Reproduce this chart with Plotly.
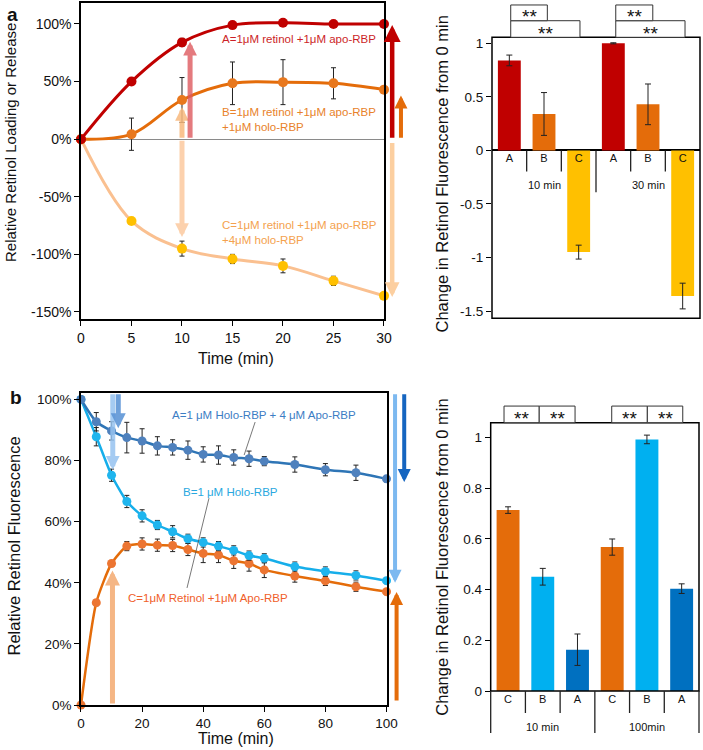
import plotly.graph_objects as go

FONT = "Liberation Sans, Arial, sans-serif"

# ---------------- data ----------------
# Panel a (line): time course, relative retinol loading/release (%)
a_time = [0, 5, 10, 15, 20, 25, 30]
a_A = [0, 50, 84, 99, 101, 100, 100]
a_A_err = [0, 2.5, 3.5, 1, 1, 1, 1]
a_B = [0, 4.3, 34, 48.5, 49.5, 48.5, 43]
a_B_err = [0, 14, 19.5, 18.5, 19.5, 13.5, 0]
a_C = [0, -71, -95, -104, -110, -123, -136]
a_C_err = [0, 3, 6.5, 4, 6, 4, 0]
a_yticks = [-150, -100, -50, 0, 50, 100]
a_yticktext = ["-150%", "-100%", "-50%", "0%", "50%", "100%"]
a_xticks = [0, 5, 10, 15, 20, 25, 30]

# Panel a (bars): change in retinol fluorescence from 0 min
a_bar_letters = ["A", "B", "C", "A", "B", "C"]
a_bar_groups = ["10 min", "30 min"]
a_bar_vals = [0.84, 0.34, -0.95, 1.0, 0.43, -1.36]
a_bar_err = [0.05, 0.2, 0.065, 0.005, 0.19, 0.12]
a_bar_yticks = [-1.5, -1, -0.5, 0, 0.5, 1]
a_bar_yticktext = ["-1.5", "-1", "-0.5", "0", "0.5", "1"]

# Panel b (line): relative retinol fluorescence (%)
b_time = [0, 5, 10, 15, 20, 25, 30, 35, 40, 45, 50, 55, 60, 70, 80, 90, 100]
b_A = [100, 92.7, 89.7, 87.5, 86.4, 84.8, 84.3, 83.4, 82.0, 81.8, 81.0, 80.6, 79.8, 78.7, 77.0, 76.0, 74.0]
b_A_err = [1, 3, 3, 5, 4, 3, 2.5, 3, 2.5, 3, 2.5, 2.5, 1.5, 2.5, 2, 2.5, 1]
b_B = [100, 87.8, 75.2, 66.6, 61.9, 58.9, 56.7, 54.4, 53.2, 52.0, 50.6, 48.9, 48.0, 45.3, 43.7, 42.4, 40.7]
b_B_err = [1, 3, 2, 2, 2, 1.5, 2, 1.5, 1.5, 1.5, 1.5, 1.5, 1.5, 1.5, 1.5, 1.5, 1]
b_C = [0, 33.5, 46.3, 52.0, 52.7, 52.3, 52.2, 50.9, 49.6, 49.1, 47.2, 46.3, 44.2, 42.2, 40.6, 38.7, 37.1]
b_C_err = [0, 1, 1, 1.5, 2, 2, 2, 2, 3, 2.5, 2.5, 2.5, 2.5, 2, 1.5, 1.5, 1]
b_yticks = [0, 20, 40, 60, 80, 100]
b_yticktext = ["0%", "20%", "40%", "60%", "80%", "100%"]
b_xticks = [0, 20, 40, 60, 80, 100]

# Panel b (bars)
b_bar_letters = ["C", "B", "A", "C", "B", "A"]
b_bar_groups = ["10 min", "100min"]
b_bar_vals = [0.714, 0.451, 0.163, 0.568, 0.993, 0.404]
b_bar_err = [0.013, 0.033, 0.062, 0.032, 0.017, 0.019]
b_bar_yticks = [0, 0.2, 0.4, 0.6, 0.8, 1]
b_bar_yticktext = ["0", "0.2", "0.4", "0.6", "0.8", "1"]

# ---------------- styles ----------------
RED, ORANGE, YELLOW, PEACH = "#C00000", "#E46C0A", "#FFC000", "#FAC090"
DBLUE, LBLUE = "#0070C0", "#00B0F0"
a_bar_colors = {"A": RED, "B": ORANGE, "C": YELLOW}
b_bar_colors = {"A": DBLUE, "B": LBLUE, "C": ORANGE}
ERR = dict(type="data", color="#222", thickness=1, width=2.5)

fig = go.Figure()


def add_line(x, y, err, lc, mc, xa, ya, smoothing, lw, ms):
    fig.add_trace(go.Scatter(
        x=x, y=y, mode="lines+markers",
        line=dict(color=lc, width=lw, shape="spline", smoothing=smoothing),
        marker=dict(color=mc, size=ms),
        error_y=dict(ERR, array=err),
        xaxis=xa, yaxis=ya, cliponaxis=False, showlegend=False))


# panel a lines
add_line(a_time, a_C, a_C_err, PEACH, YELLOW, "x", "y", 1.0, 3, 10)
add_line(a_time, a_B, a_B_err, ORANGE, "#E8781E", "x", "y", 1.0, 3, 10)
add_line(a_time, a_A, a_A_err, RED, RED, "x", "y", 1.0, 3, 10)

# panel b lines
add_line(b_time, b_C, b_C_err, ORANGE, "#EC7532", "x2", "y2", 0.6, 2.5, 9)
add_line(b_time, b_B, b_B_err, "#16AEEA", "#1FB5EE", "x2", "y2", 0.6, 2.5, 9)
add_line(b_time, b_A, b_A_err, "#2E75B6", "#4F81BD", "x2", "y2", 0.6, 2.5, 9)

# bars
fig.add_trace(go.Bar(
    x=list(range(len(a_bar_vals))), y=a_bar_vals, width=0.66,
    marker=dict(color=[a_bar_colors[c] for c in a_bar_letters], line=dict(width=0)),
    error_y=dict(ERR, array=a_bar_err, width=3),
    xaxis="x3", yaxis="y3", showlegend=False))
fig.add_trace(go.Bar(
    x=list(range(len(b_bar_vals))), y=b_bar_vals, width=0.66,
    marker=dict(color=[b_bar_colors[c] for c in b_bar_letters], line=dict(width=0)),
    error_y=dict(ERR, array=b_bar_err, width=3),
    xaxis="x4", yaxis="y4", showlegend=False))

axis_common = dict(showgrid=False, ticks="outside", ticklen=5, tickwidth=1.2, automargin=False,
                   tickcolor="black", tickfont=dict(family=FONT, size=14, color="#111"))
line_frame = dict(showline=True, mirror=True, linecolor="black", linewidth=1.5)
small_tick = dict(family=FONT, size=13.5, color="#111")

fig.update_layout(
    width=703, height=750, margin=dict(l=0, r=0, t=0, b=0, pad=0, autoexpand=False),
    paper_bgcolor="white", plot_bgcolor="white",
    font=dict(family=FONT, color="#111"),
    xaxis=dict(axis_common, **line_frame, domain=[0.11522, 0.54623], range=[0, 30], anchor="y",
               tickvals=a_xticks, zeroline=False),
    yaxis=dict(axis_common, **line_frame, domain=[0.57467, 0.996], range=[-156.1, 118.2], anchor="x",
               tickvals=a_yticks, ticktext=a_yticktext, zeroline=True,
               zerolinecolor="#8a8a8a", zerolinewidth=1),
    xaxis2=dict(axis_common, **line_frame, domain=[0.11522, 0.54979], range=[0, 100], anchor="y2",
                tickvals=b_xticks, zeroline=False, tickfont=small_tick),
    yaxis2=dict(axis_common, **line_frame, domain=[0.06, 0.4764], range=[0, 102.2], anchor="x2",
                tickvals=b_yticks, ticktext=b_yticktext, zeroline=False, tickfont=small_tick),
    xaxis3=dict(showgrid=False, zeroline=False, showline=False, domain=[0.69986, 0.99573],
                range=[-0.5, 5.5], anchor="free", position=0.7995, ticks="", automargin=False,
                tickvals=list(range(6)), ticktext=a_bar_letters,
                tickfont=dict(family=FONT, size=11, color="#111")),
    yaxis3=dict(axis_common, domain=[0.5756, 0.95027], range=[-1.568, 1.056], anchor="x3",
                tickvals=a_bar_yticks, ticktext=a_bar_yticktext, showline=False,
                zeroline=True, zerolinecolor="black", zerolinewidth=1.5, tickfont=small_tick),
    xaxis4=dict(showgrid=False, zeroline=False, showline=False, domain=[0.698, 0.99431],
                range=[-0.5, 5.5], anchor="y4", ticks="", automargin=False,
                tickvals=list(range(6)), ticktext=b_bar_letters,
                tickfont=dict(family=FONT, size=11, color="#111")),
    yaxis4=dict(axis_common, domain=[0.07867, 0.4364], range=[0, 1.059], anchor="x4",
                tickvals=b_bar_yticks, ticktext=b_bar_yticktext, showline=False, zeroline=False,
                tickfont=small_tick),
)

shapes = []
annotations = []

# frames for bar charts
for xr, yr in (("x3 domain", "y3 domain"), ("x4 domain", "y4 domain")):
    shapes.append(dict(type="rect", xref=xr, yref=yr, x0=0, x1=1, y0=0, y1=1,
                       line=dict(color="black", width=1.5), layer="above"))

# category separators, panel a bars (axis at zero)
for xd in (1 / 6, 2 / 6, 4 / 6, 5 / 6):
    shapes.append(dict(type="line", xref="x3 domain", yref="y3", x0=xd, x1=xd, y0=0, y1=-0.196,
                       line=dict(color="#222", width=1.3)))
shapes.append(dict(type="line", xref="x3 domain", yref="y3", x0=0.5, x1=0.5, y0=0, y1=-0.392,
                   line=dict(color="#222", width=1.3)))
# category separators, panel b bars
for xd in (1 / 6, 2 / 6, 4 / 6, 5 / 6):
    shapes.append(dict(type="line", xref="x4 domain", yref="y4 domain", x0=xd, x1=xd, y0=0, y1=-0.082,
                       line=dict(color="#222", width=1.3)))
for xd in (0, 0.5, 1):
    shapes.append(dict(type="line", xref="x4 domain", yref="y4 domain", x0=xd, x1=xd, y0=0, y1=-0.1565,
                       line=dict(color="#222", width=1.3)))

# group labels
for i, g in enumerate(a_bar_groups):
    annotations.append(dict(text=g, xref="x3", yref="y3", x=1 + 3 * i, y=-0.327, showarrow=False,
                            xanchor="center", yanchor="middle",
                            font=dict(family=FONT, size=11, color="#111")))
for i, g in enumerate(b_bar_groups):
    annotations.append(dict(text=g, xref="x4", yref="y4 domain", x=1 + 3 * i, y=-0.133, showarrow=False,
                            xanchor="center", yanchor="middle",
                            font=dict(family=FONT, size=11, color="#111")))

# significance boxes
def sig_box(xr, yr, x0, x1, y0, y1):
    shapes.append(dict(type="rect", xref=xr, yref=yr, x0=x0, x1=x1, y0=y0, y1=y1,
                       line=dict(color="#333", width=1), fillcolor="white", layer="above"))
    annotations.append(dict(text="**", xref=xr, yref=yr, x=(x0 + x1) / 2, y=(y0 + y1) / 2,
                            showarrow=False, xanchor="center", yanchor="middle", yshift=-4,
                            font=dict(family=FONT, size=19, color="#111")))

for x0, x1 in ((0.09, 0.423), (0.595, 0.928)):
    sig_box("x3 domain", "y3 domain", x0, x1, 1.0, 1.059)
for x0, x1 in ((0.09, 0.266), (0.595, 0.773)):
    sig_box("x3 domain", "y3 domain", x0, x1, 1.059, 1.115)
for x0, x1 in ((0.064, 0.233), (0.233, 0.405), (0.581, 0.752), (0.752, 0.922)):
    sig_box("x4 domain", "y4 domain", x0, x1, 1.0, 1.062)

# arrows
def arrow(xr, yr, x, y, ay, color, width=4.5, size=0.85):
    d = dict(text="", xref=xr, yref=yr, x=x, y=y, showarrow=True, arrowhead=2,
             arrowsize=size, arrowwidth=width, arrowcolor=color, ayref=yr, ay=ay, standoff=0)
    if xr.endswith("domain"):
        d.update(axref="pixel", ax=0)
    else:
        d.update(axref=xr, ax=x)
    annotations.append(d)

# panel a inside
arrow("x", "y", 10.0, -85, 0, "rgba(252,205,165,0.9)", 5, 0.55)
arrow("x", "y", 10.0, 28, 0, "rgba(248,185,125,0.85)", 5, 0.55)
arrow("x", "y", 10.8, 84.5, 0, "rgba(222,90,95,0.8)", 5, 0.55)
# panel a outside
arrow("x domain", "y", 1.027, 99, 0, RED, 4.5, 0.75)
arrow("x domain", "y", 1.056, 38, 0, ORANGE, 4, 0.65)
arrow("x domain", "y", 1.027, -137, -2, "#FCCFA0", 4.5, 0.65)
# panel b inside
arrow("x2", "y2", 10.4, 77, 102.2, "rgba(150,195,240,0.85)", 5, 0.55)
arrow("x2", "y2", 12.2, 90.6, 102.2, "rgba(95,150,215,0.9)", 5, 0.6)
arrow("x2", "y2", 10.3, 44, 0, "rgba(244,175,120,0.9)", 5, 0.6)
# panel b outside
arrow("x2 domain", "y2", 1.028, 40, 102.2, "#7DB9F0", 4, 0.65)
arrow("x2 domain", "y2", 1.058, 73, 102.2, "#1565C0", 4, 0.65)
arrow("x2 domain", "y2", 1.033, 37, 1, ORANGE, 4, 0.65)

# series labels, panel a
lab = dict(showarrow=False, xanchor="left", yanchor="middle", align="left")
annotations.append(dict(lab, text="A=1μM retinol +1μM apo-RBP", xref="x", yref="y", x=13.8, y=86.8,
                        font=dict(family=FONT, size=11.5, color="#CC1F28")))
annotations.append(dict(lab, text="B=1μM retinol +1μM apo-RBP<br>+1μM holo-RBP", xref="x", yref="y",
                        x=13.8, y=17, font=dict(family=FONT, size=11.5, color="#E8822A")))
annotations.append(dict(lab, text="C=1μM retinol +1μM apo-RBP<br>+4μM holo-RBP", xref="x", yref="y",
                        x=13.8, y=-81, font=dict(family=FONT, size=11.5, color="#F4A24E")))
# series labels, panel b
labc = dict(showarrow=False, xanchor="center", yanchor="middle")
annotations.append(dict(labc, text="A=1 μM Holo-RBP + 4 μM Apo-RBP", xref="x2", yref="y2", x=59.9, y=94.9,
                        font=dict(family=FONT, size=11.5, color="#3C7DC4")))
annotations.append(dict(labc, text="B=1 μM Holo-RBP", xref="x2", yref="y2", x=48.8, y=69.7,
                        font=dict(family=FONT, size=11.5, color="#29A8E0")))
annotations.append(dict(labc, text="C=1μM Retinol +1μM Apo-RBP", xref="x2", yref="y2", x=41.6, y=35,
                        font=dict(family=FONT, size=11.5, color="#F0602A")))
shapes.append(dict(type="line", xref="x2", yref="y2", x0=57, y0=92.6, x1=53.4, y1=81.8,
                   line=dict(color="#555", width=0.8)))
shapes.append(dict(type="line", xref="x2", yref="y2", x0=41.9, y0=67.7, x1=34.7, y1=38.3,
                   line=dict(color="#555", width=0.8)))

# axis titles
def title(text, xpx, ypx, size, angle=0):
    annotations.append(dict(text=text, xref="paper", yref="paper", x=xpx / 703, y=1 - ypx / 750,
                            showarrow=False, textangle=angle, xanchor="center", yanchor="middle",
                            font=dict(family=FONT, size=size, color="#111")))

title("Relative Retinol Loading or Release", 10, 143, 15, -90)
title("Time (min)", 236, 358, 16)
title("Relative Retinol Fluorescence", 13.5, 546, 16.5, -90)
title("Time (min)", 236, 738, 16)
title("Change in Retinol Fluorescence from 0 min", 441.5, 174, 16.5, -90)
title("Change in Retinol Fluorescence from 0 min", 441.7, 557, 16.5, -90)
title("<b>a</b>", 12, 14, 19)
title("<b>b</b>", 16, 397, 19)

fig.update_layout(shapes=shapes, annotations=annotations)
fig.write_html("out.html", config={"displayModeBar": False},
               post_script="document.body.style.margin='0';document.body.style.padding='0';")
